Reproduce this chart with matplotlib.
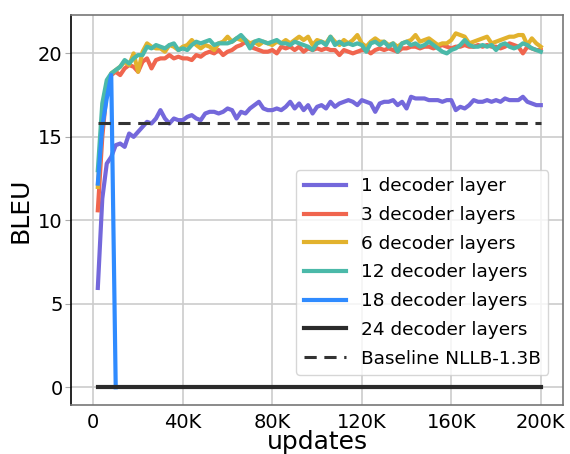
import numpy as np
import matplotlib
matplotlib.use("Agg")
import matplotlib.pyplot as plt

# updates in thousands, evaluated every 2K
updates_k = np.arange(2, 201, 2)

bleu_1 = [5.95, 11.3, 13.4, 13.8, 14.5, 14.6, 14.4, 15.2, 15.0, 15.3,
          15.6, 15.9, 15.8, 16.1, 16.6, 16.1, 15.8, 16.1, 16.0, 16.0,
          16.2, 16.3, 16.1, 16.0, 16.4, 16.5, 16.5, 16.4, 16.5, 16.7,
          16.6, 16.1, 16.5, 16.4, 16.7, 16.9, 17.1, 16.7, 16.6, 16.6,
          16.7, 16.6, 16.8, 17.1, 16.7, 17.0, 16.6, 16.9, 16.4, 16.8,
          16.9, 16.7, 17.1, 16.8, 17.0, 17.1, 17.2, 17.1, 16.9, 17.2,
          17.1, 17.0, 16.5, 17.0, 17.1, 17.1, 17.2, 16.9, 17.1, 16.7,
          17.4, 17.3, 17.3, 17.3, 17.2, 17.2, 17.2, 17.1, 17.2, 17.2,
          16.6, 16.8, 16.7, 16.9, 17.2, 17.1, 17.1, 17.2, 17.1, 17.2,
          17.1, 17.3, 17.2, 17.2, 17.2, 17.4, 17.1, 17.0, 16.9, 16.9]

bleu_3 = [10.6, 15.0, 17.8, 18.7, 18.9, 18.7, 19.1, 19.3, 19.2, 18.9,
          19.5, 19.7, 19.1, 19.6, 19.7, 19.7, 19.9, 19.7, 19.8, 19.7,
          19.7, 19.6, 19.9, 19.8, 20.0, 20.1, 20.0, 20.2, 19.9, 20.1,
          20.2, 20.4, 20.5, 20.7, 20.4, 20.3, 20.2, 20.1, 20.1, 20.2,
          20.0, 20.4, 20.3, 20.4, 20.2, 20.4, 20.1, 20.3, 20.2, 20.3,
          20.2, 20.3, 20.2, 20.2, 19.9, 20.2, 20.1, 20.0, 20.1, 20.2,
          20.2, 20.0, 20.2, 20.3, 20.2, 20.3, 20.2, 20.1, 20.3, 20.3,
          20.4, 20.4, 20.3, 20.4, 20.4, 20.3, 20.4, 20.5, 20.4, 20.3,
          20.4, 20.4, 20.5, 20.4, 20.4, 20.5, 20.4, 20.5, 20.4, 20.4,
          20.3, 20.4, 20.6, 20.5, 20.4, 20.0, 20.4, 20.3, 20.2, 20.2]

bleu_6 = [12.0, 16.0, 18.0, 18.8, 19.0, 19.2, 19.5, 19.3, 20.0, 18.9,
          20.1, 20.6, 20.4, 20.3, 20.3, 20.1, 20.5, 20.4, 20.2, 20.4,
          20.5, 20.8, 20.5, 20.3, 20.5, 20.4, 20.2, 20.6, 20.7, 21.0,
          20.7, 20.9, 20.8, 20.8, 20.6, 20.7, 20.5, 20.7, 20.6, 20.5,
          20.7, 20.6, 20.8, 20.6, 20.8, 21.0, 20.8, 21.0, 20.5, 20.8,
          20.7, 20.6, 21.0, 20.7, 20.5, 20.8, 20.6, 20.8, 21.1, 20.6,
          20.4, 20.7, 20.9, 20.7, 20.7, 20.5, 20.6, 20.4, 20.6, 20.7,
          20.8, 21.1, 20.7, 20.8, 20.9, 20.7, 20.5, 20.6, 20.6, 20.8,
          21.2, 21.1, 21.0, 20.6, 20.7, 20.8, 20.9, 21.0, 20.6, 20.7,
          20.8, 20.9, 21.0, 21.0, 21.1, 21.1, 20.5, 20.9, 20.6, 20.4]

bleu_12 = [13.0, 17.0, 18.4, 18.8, 19.0, 19.2, 19.6, 19.4, 19.7, 19.9,
           19.9, 20.4, 20.3, 20.5, 20.4, 20.3, 20.5, 20.6, 20.2, 20.3,
           20.2, 20.5, 20.7, 20.6, 20.7, 20.8, 20.5, 20.6, 20.6, 20.6,
           20.7, 20.9, 21.1, 20.8, 20.3, 20.7, 20.8, 20.7, 20.6, 20.7,
           20.8, 20.6, 20.6, 20.5, 20.7, 20.6, 20.5, 20.4, 20.2, 20.6,
           20.7, 20.5, 21.0, 20.5, 20.7, 20.5, 20.6, 20.5, 20.6, 20.5,
           20.1, 20.6, 20.7, 20.5, 20.7, 20.4, 20.6, 20.1, 20.6, 20.7,
           20.5, 20.6, 20.4, 20.5, 20.7, 20.5, 20.3, 20.1, 20.0, 20.2,
           20.3, 20.5, 20.8, 20.5, 20.4, 20.4, 20.5, 20.4, 20.5, 20.2,
           20.5, 20.6, 20.4, 20.3, 20.4, 20.6, 20.5, 20.3, 20.2, 20.1]

# 18 layers diverged after 10K updates
updates_18_k = [2, 4, 6, 8, 10]
bleu_18 = [12.2, 15.6, 17.3, 18.7, 0.0]

bleu_24 = [0.0] * len(updates_k)
baseline_nllb = 15.8

labels = ["1 decoder layer", "3 decoder layers", "6 decoder layers",
          "12 decoder layers", "18 decoder layers", "24 decoder layers",
          "Baseline NLLB-1.3B"]
colors = ["#7468db", "#f0654e", "#e2b22d", "#4bb9a9", "#2f8bff", "#2b2b2b"]

xtick_k = [0, 40, 80, 120, 160, 200]
xtick_labels = ["0", "40K", "80K", "120K", "160K", "200K"]
ytick_vals = [0, 5, 10, 15, 20]


def main():
    fig = plt.figure(figsize=(5.7, 4.54), dpi=100)
    ax = fig.add_axes([0.1245, 0.108, 0.8635, 0.859])

    x = updates_k * 1000
    lw = 3.0
    for ys, c, lab in zip([bleu_1, bleu_3, bleu_6, bleu_12], colors[:4], labels[:4]):
        ax.plot(x, ys, color=c, lw=lw, label=lab)
    ax.plot(np.array(updates_18_k) * 1000, bleu_18, color=colors[4], lw=lw, label=labels[4])
    ax.plot(x, bleu_24, color=colors[5], lw=lw, label=labels[5])
    ax.plot([x[0], x[-1]], [baseline_nllb, baseline_nllb], color="#333333",
            lw=2.2, ls=(0, (4, 2.5)), label=labels[6])

    ax.set_xlim(-10000, 210000)
    ax.set_ylim(-1.06, 22.3)
    ax.set_xticks(np.array(xtick_k) * 1000)
    ax.set_xticklabels(xtick_labels)
    ax.set_yticks(ytick_vals)
    ax.tick_params(axis="both", labelsize=14)
    ax.tick_params(axis="x", length=0, pad=6)
    ax.tick_params(axis="y", length=4, color="#aaaaaa", pad=2)

    ax.grid(True, color="#cccccc", lw=1.2)
    ax.set_axisbelow(True)
    for name, sp in ax.spines.items():
        sp.set_color("#777777")
        sp.set_linewidth(1.2)
    ax.spines["left"].set_color("black")

    ax.set_xlabel("updates", fontsize=18, labelpad=-1.5)
    ax.set_ylabel("BLEU", fontsize=18, labelpad=4)

    ax.legend(loc="lower right", bbox_to_anchor=(0.97, 0.077), borderaxespad=0,
              fontsize=13.3, handlelength=2.3, labelspacing=0.58)

    fig.savefig("out.png", dpi=100)


if __name__ == "__main__":
    main()
